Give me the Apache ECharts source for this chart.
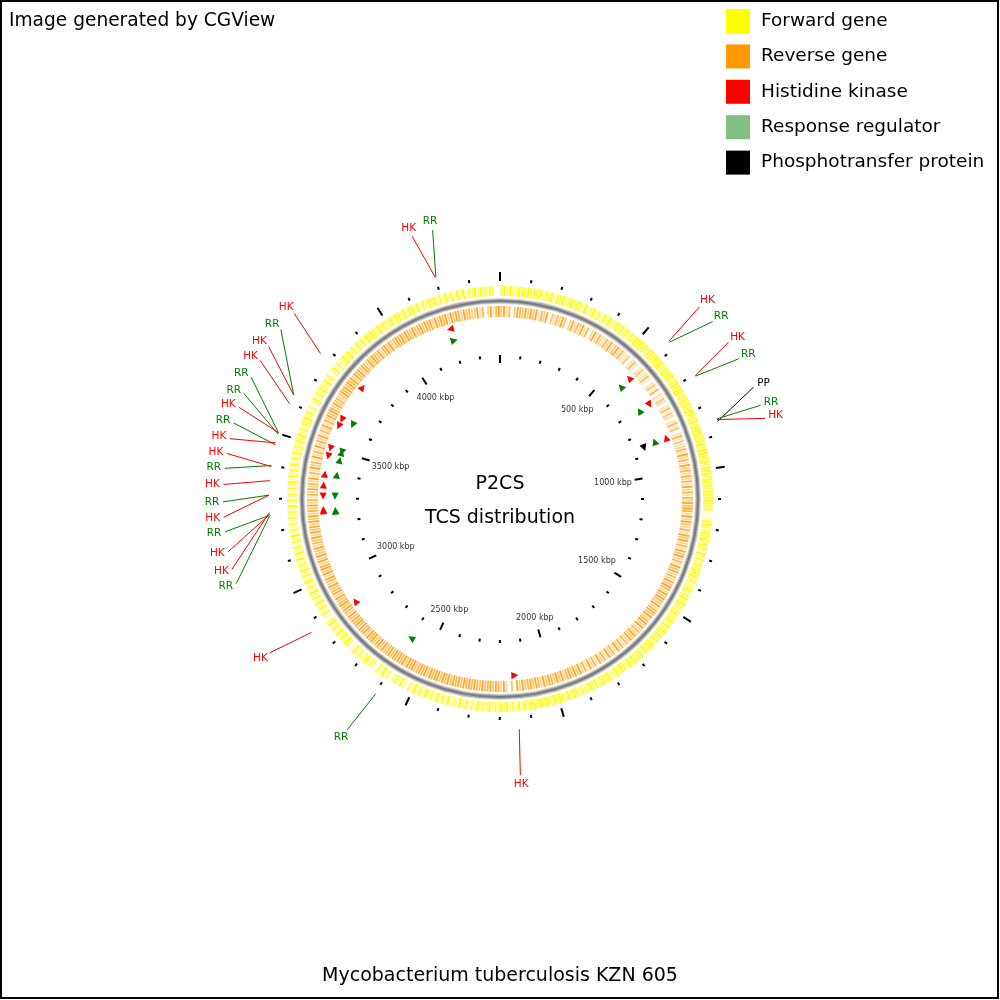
<!DOCTYPE html>
<html><head><meta charset="utf-8">
<script src="https://cdn.jsdelivr.net/npm/echarts@6/dist/echarts.min.js"></script>
<style>html,body{margin:0;padding:0;background:#fff}#c{width:1000px;height:1000px}</style>
</head><body><div id="c"></div>
<script>
const FONT = '"DejaVu Sans", sans-serif';
const GENOME_KBP = 4399;
const BIN_KBP = 10;

// gene coverage per 10 kbp bin (0 = empty, 9 = saturated), 10 bins per 100 kbp
const FORWARD_DENSITY = [
"8979879989","7989687958","8968979869","5796859697","6978796879",
"8989799898","9879899789","8997898979","9889789988","8979988979",
"8979897989","9878405897","7989798697","8697989786","7968979868",
"9789697989","7969879698","8979689797","6979869797","7868979689",
"8979989799","7969586979","6859686957","5869575968","6958695869",
"5706958607","6958068596","5869507968","6958697058","5869586958",
"6958696859","5968586958","5858585958","6858695868","5958596859",
"7968587968","5806958697","6958069586","7969586979","6979869786",
"7969879689","6958697968","5968596958","7969868700"];
const REVERSE_DENSITY = [
"7958069879","6979586907","5869706958","6958069586","5869579685",
"4705840574","5840574805","4750584750","5847058475","6859685968",
"5868596858","6979859697","6859796859","7968597968","6979869798",
"7968979689","6958697968","5869586958","6958695869","7979869797",
"8979689798","7969070596","8979879789","8989798979","8979989798",
"9879897989","8979879798","7989798979","8979689798","7969879689",
"6979869697","7968796979","6979687968","5869686958","5968596859",
"5869586958","6979869786","7989798969","8979869798","7968979689",
"8979879789","7989697989","6979869786","7958069589"];

const MAJOR_TICKS = [0,500,1000,1500,2000,2500,3000,3500,4000];
const TICK_LABELS = ['','500 kbp','1000 kbp','1500 kbp','2000 kbp','2500 kbp','3000 kbp','3500 kbp','4000 kbp'];
const MINOR_TICKS = [100,200,300,400,600,700,800,900,1100,1200,1300,1400,1600,1700,1800,1900,
  2100,2200,2300,2400,2600,2700,2800,2900,3100,3200,3300,3400,3600,3700,3800,3900,4100,4200,4300];

// TCS features: [position kbp, strand (1 forward, -1 reverse)]
const HK_FEATURES = [[574,-1],[705,1],[854,-1],[2141,-1],[2868,1],[3252,1],[3258,1],[3311,-1],[3355,1],
  [3398,1],[3471,-1],[3503,-1],[3597,-1],[3626,-1],[3776,1],[4200,-1]];
const RR_FEATURES = [[577,-1],[707,-1],[852,-1],[2597,1],[3248,1],[3250,1],[3311,-1],[3401,1],[3465,1],
  [3498,1],[3502,-1],[3626,-1],[4202,1]];
const PP_FEATURES = [[860,1]];

// outer labels: [feature kbp, label kbp, type 0=HK 1=RR 2=PP]
const TYPE_NAMES = ['HK','RR','PP'];
const OUTER_LABELS = [
  [4200,4173,0],[4202,4227,1],
  [574,563,0],[577,613,1],[705,679,0],[707,728,1],[860,809,2],[852,858,1],[854,893,0],
  [3776,3813,0],[3626,3760,1],[3626,3707,0],[3597,3666,0],
  [3502,3618,1],[3498,3573,1],[3503,3536,0],[3465,3494,1],[3471,3453,0],
  [3398,3415,0],[3401,3377,1],[3355,3336,0],[3311,3292,1],[3311,3253,0],
  [3250,3216,1],[3252,3165,0],[3258,3120,0],[3248,3082,1],
  [2868,2887,0],[2597,2609,1],[2141,2148,0]
];

const COL_FWD = '#ffff00', COL_REV = '#ff9900';
const COL_TYPE = ['#ff0000','#008000','#000000'];

function toBins(rows){
  const s = rows.join('');
  const out = [];
  for (let i = 0; i < s.length; i++) out.push([i*BIN_KBP, +s[i]]);
  return out;
}

function binRender(r0, r1, color, gain){
  return function(params, api){
    const start = api.value(0), d = api.value(1);
    if (!d) return null;
    const a0 = start + 1.6, a1 = Math.min(start + BIN_KBP - 1.6, GENOME_KBP);
    const pts = [api.coord([r0,a0]), api.coord([r1,a0]), api.coord([r1,a1]), api.coord([r0,a1])];
    return {type:'polygon', shape:{points:pts}, style:{fill:color, opacity: Math.pow(d/9, 1.6)*gain}};
  };
}

function tickRender(r0, r1major, r1minor){
  return function(params, api){
    const pos = api.value(0), major = api.value(1);
    const p0 = api.coord([r0, pos]), p1 = api.coord([major ? r1major : r1minor, pos]);
    return {type:'line', shape:{x1:p0[0],y1:p0[1],x2:p1[0],y2:p1[1]}, style:{stroke:'#000', lineWidth: 2}};
  };
}

function tickLabelRender(params, api){
  const pos = api.value(0), idx = api.value(1);
  const th = pos / GENOME_KBP * 2 * Math.PI;
  const r = 133 - (18.5*Math.abs(Math.sin(th)) + 4*Math.abs(Math.cos(th)));
  const p = api.coord([r, pos]);
  return {type:'text', x:p[0], y:p[1], style:{text:TICK_LABELS[idx], fill:'#333', fontSize:8, fontFamily:FONT, align:'center', verticalAlign:'middle'}};
}

function triRender(R, color){
  return function(params, api){
    const pos = api.value(0), s = api.value(1);
    const dk = 7 / (2*Math.PI*R) * GENOME_KBP;
    const base = pos - s*dk/2, tip = pos + s*dk/2;
    const pts = [api.coord([R-3.6, base]), api.coord([R+3.6, base]), api.coord([R, tip])];
    return {type:'polygon', shape:{points:pts}, style:{fill:color}};
  };
}

function outerLabelRender(params, api){
  const f = api.value(0), l = api.value(1), t = api.value(2);
  const p0 = api.coord([231, f]), p1 = api.coord([277, l]);
  const th = l / GENOME_KBP * 2 * Math.PI;
  const pa = api.coord([281, l]);
  return {type:'group', children:[
    {type:'line', shape:{x1:p0[0],y1:p0[1],x2:p1[0],y2:p1[1]}, style:{stroke:COL_TYPE[t], lineWidth:1}},
    {type:'text', x: pa[0] + 7*Math.sin(th), y: pa[1] - 5*Math.cos(th),
     style:{text:TYPE_NAMES[t], fill:COL_TYPE[t], fontSize:10.5, fontFamily:FONT, align:'center', verticalAlign:'middle'}}
  ]};
}

function ringRender(params, api){
  const c = api.coord([0, 0]);
  const q = api.coord([198, 0]);
  const r = Math.hypot(q[0]-c[0], q[1]-c[1]);
  const mk = (w, col) => ({type:'circle', shape:{cx:c[0], cy:c[1], r:r}, style:{fill:'none', stroke:col, lineWidth:w}});
  return {type:'group', children:[mk(6,'#d6d6d6'), mk(4,'#a8a8a8'), mk(2,'#7a7a7a')]};
}

const ticksData = MAJOR_TICKS.map(v => [v,1]).concat(MINOR_TICKS.map(v => [v,0]));
const tickLabelData = MAJOR_TICKS.map((v,i) => [v,i]).filter(d => TICK_LABELS[d[1]]);

const chart = echarts.init(document.getElementById('c'), null, {renderer:'canvas'});
chart.setOption({
  animation:false,
  backgroundColor:'#fff',
  title:{text:'Mycobacterium tuberculosis KZN 605', left:'center', top:967, padding:0,
    textStyle:{fontSize:19, fontWeight:'normal', fontFamily:FONT, color:'#000'}},
  legend:{orient:'vertical', left:726, top:9, padding:0, itemWidth:24, itemHeight:24, itemGap:11.4,
    icon:'rect', selectedMode:false,
    textStyle:{fontSize:18.5, fontFamily:FONT, color:'#000', padding:[0,0,0,6]},
    data:[
      {name:'Forward gene', itemStyle:{color:COL_FWD}},
      {name:'Reverse gene', itemStyle:{color:COL_REV}},
      {name:'Histidine kinase', itemStyle:{color:'#ff0000'}},
      {name:'Response regulator', itemStyle:{color:'#80c080'}},
      {name:'Phosphotransfer protein', itemStyle:{color:'#000000'}}
    ]},
  polar:{center:[500,499], radius:250},
  angleAxis:{type:'value', min:0, max:GENOME_KBP, startAngle:90, clockwise:true, show:false},
  radiusAxis:{type:'value', min:0, max:250, show:false},
  graphic:[
    {type:'rect', shape:{x:1,y:1,width:997,height:997}, style:{fill:null, stroke:'#000', lineWidth:2}, silent:true, z:100},
    {type:'text', x:9, y:12, style:{text:'Image generated by CGView', fontSize:18.6, fontFamily:FONT, fill:'#000'}},
    {type:'text', x:500, y:484, style:{text:'P2CS', fontSize:19, fontFamily:FONT, fill:'#000', align:'center', verticalAlign:'middle'}},
    {type:'text', x:500, y:518, style:{text:'TCS distribution', fontSize:19, fontFamily:FONT, fill:'#000', align:'center', verticalAlign:'middle'}}
  ],
  series:[
    {name:'Forward gene', type:'custom', coordinateSystem:'polar', itemStyle:{color:COL_FWD}, data:toBins(FORWARD_DENSITY), renderItem:binRender(203,213,COL_FWD,1), silent:true},
    {name:'Reverse gene', type:'custom', coordinateSystem:'polar', itemStyle:{color:COL_REV}, data:toBins(REVERSE_DENSITY), renderItem:binRender(182,193,COL_REV,0.85), silent:true},
    {name:'backbone', type:'custom', coordinateSystem:'polar', data:[[0,0]], renderItem:ringRender, silent:true},
    {name:'outer ticks', type:'custom', coordinateSystem:'polar', data:ticksData, renderItem:tickRender(218,227,221), silent:true},
    {name:'inner ticks', type:'custom', coordinateSystem:'polar', data:ticksData, renderItem:tickRender(144,136,141), silent:true},
    {name:'tick labels', type:'custom', coordinateSystem:'polar', data:tickLabelData, renderItem:tickLabelRender, silent:true},
    {name:'Histidine kinase', type:'custom', coordinateSystem:'polar', itemStyle:{color:'#ff0000'}, data:HK_FEATURES, renderItem:triRender(177,'#ff0000'), silent:true},
    {name:'Response regulator', type:'custom', coordinateSystem:'polar', itemStyle:{color:'#80c080'}, data:RR_FEATURES, renderItem:triRender(165,'#008000'), silent:true},
    {name:'Phosphotransfer protein', type:'custom', coordinateSystem:'polar', itemStyle:{color:'#000000'}, data:PP_FEATURES, renderItem:triRender(153,'#000000'), silent:true},
    {name:'labels', type:'custom', coordinateSystem:'polar', data:OUTER_LABELS, renderItem:outerLabelRender, silent:true}
  ]
});
</script></body></html>
